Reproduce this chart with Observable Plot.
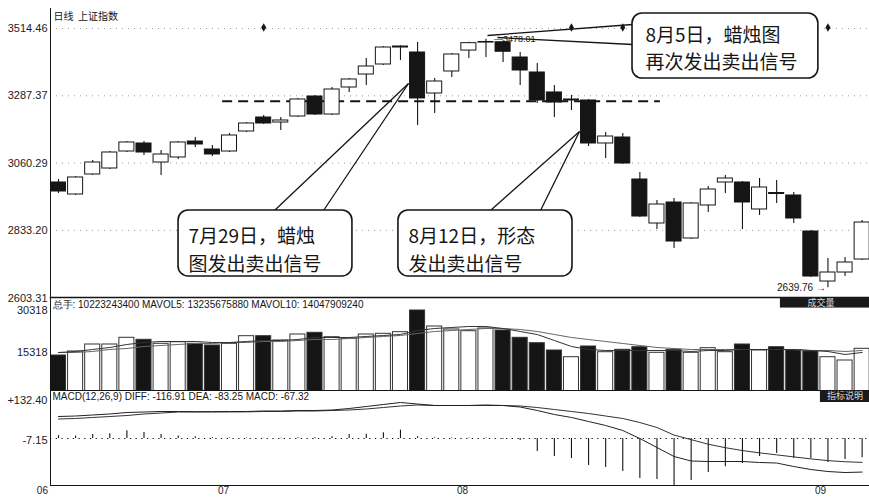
<!DOCTYPE html>
<html><head><meta charset="utf-8">
<script src="https://cdn.jsdelivr.net/npm/d3@7"></script>
<script src="https://cdn.jsdelivr.net/npm/@observablehq/plot@0.6"></script>
<style>
html,body{margin:0;padding:0;background:#fff;}
#chart{position:relative;width:869px;height:497px;overflow:hidden;background:#fff;}
#chart svg{position:absolute;left:0;}
</style></head><body><div id="chart"></div>
<script>
// ---- data (trading days, index 1..48) ----
const opens  = [2994.8,2954.3,3021.8,3042.0,3099.4,3126.4,3062.3,3079.2,3133.1,3106.1,3099.4,3166.9,3214.1,3197.2,3217.5,3285.0,3224.2,3315.4,3359.2,3393.0,3450.3,3433.5,3295.1,3369.4,3440.0,3467.0,3468.0,3416.6,3366.0,3298.6,3271.5,3271.5,3126.4,3146.6,3004.9,2856.4,2927.3,2805.8,2917.2,2994.8,2994.8,2903.7,2959.3,2950.9,2829.4,2660.6,2691.0,2734.9];
const highs  = [3004.9,3015.0,3069.0,3099.4,3133.1,3133.1,3102.8,3133.1,3146.6,3119.6,3160.1,3197.2,3220.9,3214.1,3278.3,3288.4,3315.4,3345.7,3413.2,3453.7,3456.0,3467.2,3345.7,3430.1,3468.0,3478.01,3472.0,3433.5,3396.4,3322.1,3288.4,3274.9,3163.5,3160.1,3028.5,2934.0,2940.8,2927.3,2981.3,3018.4,2998.1,3008.3,3001.5,2961.0,2832.8,2738.3,2741.6,2866.5];
const lows   = [2957.6,2950.9,3018.4,3038.7,3096.0,3085.9,3018.4,3072.4,3112.9,3082.5,3096.0,3163.5,3190.5,3170.3,3214.1,3220.9,3220.9,3298.6,3322.1,3389.6,3406.5,3187.1,3227.6,3349.1,3413.2,3416.6,3399.7,3322.1,3261.4,3214.1,3237.7,3116.3,3075.8,3055.5,2876.6,2836.2,2772.0,2802.4,2893.5,2957.6,2836.2,2883.4,2923.9,2856.4,2674.2,2639.76,2677.5,2731.5];
const closes = [2964.4,3011.7,3062.3,3096.0,3129.8,3096.0,3089.3,3129.8,3123.0,3089.3,3153.4,3193.9,3193.9,3204.0,3274.9,3224.2,3308.6,3342.4,3386.3,3450.3,3453.7,3278.3,3335.6,3426.7,3465.0,3469.0,3436.0,3372.7,3271.5,3264.7,3274.9,3126.4,3150.0,3058.9,2880.0,2920.5,2795.6,2923.9,2971.2,3008.3,2927.3,2977.9,2955.9,2873.3,2677.5,2691.0,2724.8,2859.8];
const volumes = [14268,15695,18192,18192,20582,19868,18441,19012,18441,17835,18441,21152,21152,19619,21759,22365,20796,20225,21759,22008,22579,30318,24612,23542,22936,23899,23186,20582,18655,16052,13662,17478,15445,16301,17229,15231,16301,15231,16872,15445,18192,16052,17229,16052,15695,13662,12485,16658];
const mavol5  = [15338,15695,16408,17122,18192,18905,19262,19262,19262,18905,18905,19262,19619,19619,19975,20689,20689,20689,21045,21402,21759,23186,23899,24256,24612,24612,23899,22829,21759,19619,17478,16408,16052,16052,16052,16052,16052,15695,16052,16052,16408,16408,16408,16408,16052,15695,14625,15338];
const mavol10 = [15338,15338,15695,16408,16765,17478,17835,18192,18548,18548,18905,18905,19262,19262,19619,19975,19975,20332,20689,21045,21402,22115,22829,23186,23542,23899,23899,23542,22829,21759,20689,19975,19262,18548,17835,17122,16765,16408,16408,16408,16408,16408,16408,16408,16052,16052,15695,16052];
const diffs = [76.6,78.4,81.9,85.4,90.6,92.3,94.1,94.1,93.5,93.5,94.1,94.1,95.8,95.8,97.6,97.6,99.3,104.5,111.5,118.5,125.4,120.2,115.0,115.0,115.0,116.7,115.0,109.7,97.6,83.6,73.2,59.2,45.3,27.9,0,-31.4,-62.7,-78.4,-80.1,-80.1,-80.1,-83.6,-85.4,-97.6,-108.0,-115.0,-118.5,-116.91];
const deas  = [67.9,69.7,73.2,76.6,80.1,85.4,88.8,92.3,92.3,92.5,92.6,92.8,94.1,94.1,95.8,95.8,97.6,99.3,102.8,108.0,113.2,116.7,115.0,115.0,115.0,115.0,115.0,113.2,108.0,101.0,94.1,87.1,78.4,69.7,55.7,38.3,12,-4,-20,-32,-42,-50,-57,-64,-71,-77,-81,-83.25];
const macdHist = [10,9,14,17,27,21,14,9,6,3,2,2,1,1,3,3,6,14,15,20,29,6,3,2,2,2,-3,-7,-45,-63,-70,-94,-101,-115,-139,-143,-164,-146,-118,-98,-87,-63,-52,-70,-70,-84,-73,-67.32];
const eventDays = [13,31,34,46];
const priceTicks = [3514.46,3287.37,3060.29,2833.20,2603.31];
const volTicks = [30318,15318];
const macdTicks = [132.40,-7.15];
const monthLabels = ["06","07","08","09"];
const monthPos = [0.06,10.65,24.63,45.57];
const resistance = [{price:3269, from:10.6, to:36.2}];

// ---- build ----
const candles = d3.range(opens.length).map(k => ({
  i:k+1, open:opens[k], high:highs[k], low:lows[k], close:closes[k],
  volume:volumes[k], mavol5:mavol5[k], mavol10:mavol10[k],
  diff:diffs[k], dea:deas[k], macd:macdHist[k]
}));
const isUp = d => d.close >= d.open;
const xDomain = [0.532, 48.43];
const hw = 0.44;
const INK = "#151515";
const baseStyle = {background:"transparent", overflow:"visible", fontFamily:"'Liberation Sans', Arial, sans-serif", fontSize:"11px", color:INK};
const cjk = "'Noto Sans CJK SC', sans-serif";

const callouts = [
  {x1:8.02, x2:18.19, y1:2900.3, y2:2677.6, tx:8.6, l1:"7月29日，蜡烛", l2:"图发出卖出信号", ty1:2812.5, ty2:2718.1},
  {x1:20.88, x2:31.06, y1:2900.3, y2:2677.6, tx:21.47, l1:"8月12日，形态", l2:"发出卖出信号", ty1:2812.5, ty2:2718.1},
  {x1:34.57, x2:45.44, y1:3565.1, y2:3345.7, tx:35.33, l1:"8月5日，蜡烛图", l2:"再次发出卖出信号", ty1:3490.8, ty2:3399.7}
];
const pointers = [
  {x1:13.63, y1:2900.3, x2:21.47, y2:3328.9},
  {x1:16.5,  y1:2900.3, x2:21.47, y2:3328.9},
  {x1:26.26, y1:2900.3, x2:31.47, y2:3166.9},
  {x1:29.19, y1:2900.3, x2:31.47, y2:3166.9},
  {x1:34.57, y1:3528.0, x2:26.09, y2:3490.8},
  {x1:34.57, y1:3460.5, x2:26.67, y2:3484.1}
];
const calloutTexts = callouts.flatMap(c => [{x:c.tx, y:c.ty1, t:c.l1},{x:c.tx, y:c.ty2, t:c.l2}]);

const price = Plot.plot({
  width:869, height:314, marginLeft:50, marginRight:0, marginTop:8, marginBottom:17,
  style:baseStyle,
  x:{domain:xDomain, axis:null},
  y:{domain:[2603.31,3514.46], range:[298,28], axis:null},
  marks:[
    Plot.ruleY(priceTicks.slice(0,4), {stroke:"#9a9a9a", strokeDasharray:"1,5"}),
    Plot.ruleY(resistance, {y:"price", x1:"from", x2:"to", stroke:INK, strokeWidth:1.8, strokeDasharray:"10,6"}),
    Plot.ruleX(candles, {x:"i", y1:"low", y2:"high", stroke:INK, strokeWidth:1.1}),
    Plot.rect(candles, {x1:d=>d.i-hw, x2:d=>d.i+hw, y1:"open", y2:"close", fill:d=>isUp(d)?"#fff":INK, stroke:INK, strokeWidth:1}),
    Plot.dot(eventDays, {x:d=>d, y:()=>3518, symbol:"diamond", r:2.6, fill:INK, stroke:null}),
    Plot.link(pointers, {x1:"x1", y1:"y1", x2:"x2", y2:"y2", stroke:INK, strokeWidth:1.3}),
    Plot.rect(callouts, {x1:"x1", x2:"x2", y1:"y1", y2:"y2", fill:"#fff", stroke:INK, strokeWidth:1.6, rx:10}),
    Plot.text(calloutTexts, {x:"x", y:"y", text:"t", textAnchor:"start", fontSize:19, fontFamily:cjk, fill:INK}),
    Plot.text([candles[25]], {x:"i", y:"high", text:()=>"—3478.01", textAnchor:"start", dx:8, fontSize:9, fill:INK}),
    Plot.text([candles[45]], {x:"i", y:"low", text:()=>"2639.76 →", textAnchor:"end", dx:-2, fontSize:10, fill:INK}),
    Plot.axisY(priceTicks, {anchor:"left", tickSize:0, tickPadding:3, tickFormat:d=>d.toFixed(2), fontSize:11, fill:"#222"}),
    Plot.frame({anchor:"left", stroke:INK}),
    Plot.frame({anchor:"bottom", stroke:INK, strokeWidth:1.6}),
    // "成交量" tag sitting on the panel separator
    Plot.rect([{a:43.22, b:48.43, c:2606.5, d:2571.0}], {x1:"a", x2:"b", y1:"c", y2:"d", fill:"#1a1a1a"}),
    Plot.text(["成交量"], {x:()=>45.6, y:()=>2589, fill:"#ddd", fontSize:9, fontFamily:cjk}),
    Plot.text(["日线  上证指数"], {frameAnchor:"top-left", dx:3, dy:4, fontSize:10, fontFamily:cjk, fill:INK})
  ]
});

const vol = Plot.plot({
  width:869, height:94, marginLeft:50, marginRight:0, marginTop:0, marginBottom:1,
  style:{...baseStyle, overflow:"hidden"},
  x:{domain:xDomain, axis:null},
  y:{domain:[0,30318], range:[98,13], axis:null},
  marks:[
    Plot.rect(candles, {x1:d=>d.i-hw, x2:d=>d.i+hw, y1:()=>0, y2:"volume", fill:d=>isUp(d)?"#fff":INK, stroke:"#333", strokeWidth:1}),
    Plot.line(candles, {x:"i", y:"mavol10", stroke:"#666", strokeWidth:1}),
    Plot.line(candles, {x:"i", y:"mavol5", stroke:"#333", strokeWidth:1}),
    Plot.axisY(volTicks, {anchor:"left", tickSize:0, tickPadding:3, tickFormat:d=>String(d), fontSize:11, fill:"#222"}),
    Plot.text(["总手: 10223243400 MAVOL5: 13235675880 MAVOL10: 14047909240"], {frameAnchor:"top-left", dx:2, dy:3, fontSize:10, fill:INK}),
    Plot.frame({anchor:"left", stroke:INK}),
    Plot.frame({anchor:"bottom", stroke:INK})
  ]
});

const macd = Plot.plot({
  width:869, height:107, marginLeft:50, marginRight:0, marginTop:0, marginBottom:12,
  style:baseStyle,
  x:{domain:xDomain, axis:null},
  y:{domain:[-163.7,132.4], range:[95,10], axis:null},
  marks:[
    Plot.ruleY([0], {stroke:INK, strokeDasharray:"1.3,4.4"}),
    Plot.ruleX(candles, {x:"i", y1:()=>0, y2:"macd", stroke:INK, strokeWidth:1.1}),
    Plot.line(candles, {x:"i", y:"dea", stroke:"#333", strokeWidth:1}),
    Plot.line(candles, {x:"i", y:"diff", stroke:"#222", strokeWidth:1}),
    Plot.axisY(macdTicks, {anchor:"left", tickSize:0, tickPadding:3, tickFormat:d=>(d>0?"+":"")+d.toFixed(2), fontSize:11, fill:"#222"}),
    Plot.rect([{a:45.56,b:48.43,c:125.4,d:167.2}], {x1:"a", x2:"b", y1:"c", y2:"d", fill:"#1a1a1a"}),
    Plot.text(["指标说明"], {x:()=>47.0, y:()=>146, fill:"#ddd", fontSize:9, fontFamily:cjk}),
    Plot.text(["MACD(12,26,9) DIFF: -116.91 DEA: -83.25 MACD: -67.32"], {frameAnchor:"top-left", dx:2, dy:2, fontSize:10, fill:INK}),
    Plot.text(monthLabels, {x:(d,k)=>monthPos[k], frameAnchor:"bottom", dy:8, fontSize:10, fill:"#222"}),
    Plot.frame({anchor:"left", stroke:INK}),
    Plot.frame({anchor:"bottom", stroke:INK})
  ]
});

const box = document.getElementById("chart");
vol.style.top = "297px";
macd.style.top = "390px";
price.style.top = "0px";
box.append(vol, macd, price);
</script></body></html>
